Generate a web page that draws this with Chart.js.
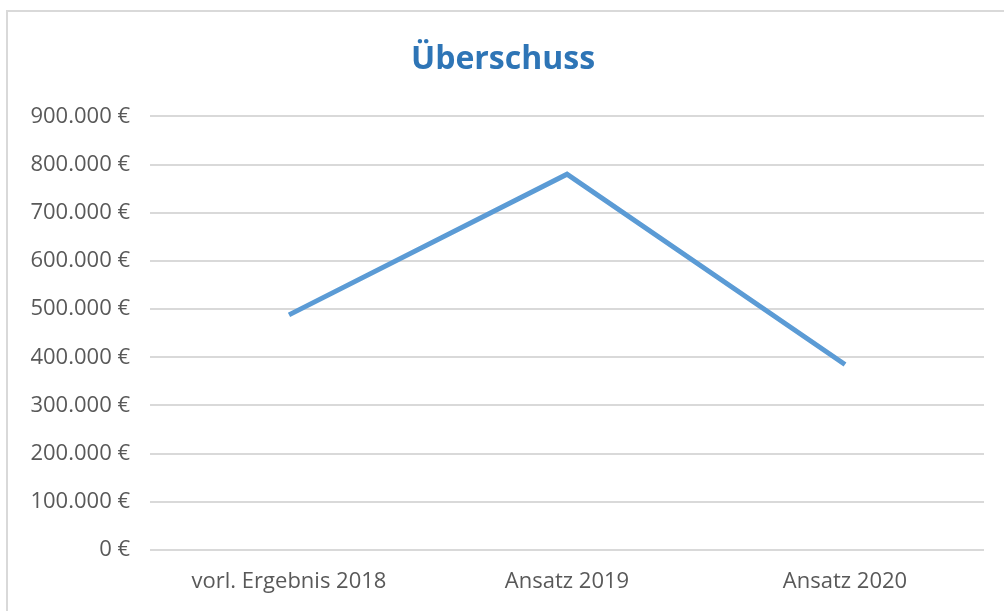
<!DOCTYPE html>
<html>
<head>
<meta charset="utf-8">
<script src="https://cdn.jsdelivr.net/npm/chart.js@4"></script>
<style>
  html, body { margin: 0; padding: 0; background: #fff; }
  #frame {
    position: absolute; left: 6px; top: 10px; width: 1010px; height: 620px;
    border-left: 2px solid #d9d9d9; border-top: 2px solid #d9d9d9;
  }
  #wrap { position: absolute; left: 0; top: 0; width: 1004px; height: 611px; }
</style>
</head>
<body>
<div id="frame"></div>
<div id="wrap"><canvas id="chart"></canvas></div>
<script>
// Chart data
const categories = ['vorl. Ergebnis 2018', 'Ansatz 2019', 'Ansatz 2020'];
const surplus = [488000, 780000, 385000];
const yTicks = [0, 100000, 200000, 300000, 400000, 500000, 600000, 700000, 800000, 900000];

const fmtEuro = v => (v === 0 ? '0' : v.toLocaleString('de-DE')) + ' €';

const ctx = document.getElementById('chart').getContext('2d');
new Chart(ctx, {
    type: 'line',
    data: {
        labels: categories,
        datasets: [{
            label: 'Überschuss',
            data: surplus,
            borderColor: '#5b9bd5',
            borderWidth: 5,
            pointRadius: 0,
            tension: 0,
            fill: false
        }]
    },
    options: {
        responsive: true,
        maintainAspectRatio: false,
        animation: false,
        layout: { padding: { left: 22, right: 20, top: 0, bottom: 0 } },
        plugins: {
            legend: { display: false },
            tooltip: { enabled: false },
            title: {
                display: true,
                text: 'Überschuss',
                color: '#2e75b6',
                font: { family: 'Open Sans', size: 32, weight: 'bold' },
                padding: { top: 41, bottom: 37 }
            }
        },
        scales: {
            x: {
                offset: true,
                grid: { display: false },
                border: { display: false },
                ticks: {
                    color: '#595959',
                    font: { family: 'Open Sans', size: 22 },
                    padding: 11,
                    maxRotation: 0
                },
                afterFit: axis => { axis.height = 61; }
            },
            y: {
                min: 0,
                max: 900000,
                afterBuildTicks: axis => { axis.ticks = yTicks.map(v => ({ value: v })); },
                grid: { color: '#d9d9d9', lineWidth: 2, drawTicks: false },
                border: { display: false },
                ticks: {
                    color: '#595959',
                    font: { family: 'Open Sans', size: 22 },
                    padding: 20,
                    callback: v => fmtEuro(v)
                },
                afterFit: axis => { axis.width = 128; }
            }
        }
    }
});
</script>
</body>
</html>
